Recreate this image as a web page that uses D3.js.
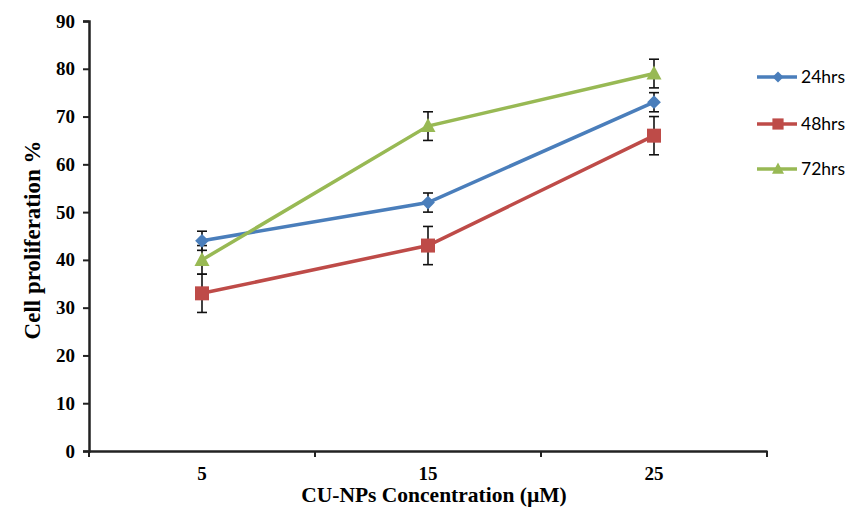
<!DOCTYPE html>
<html>
<head>
<meta charset="utf-8">
<script src="https://cdn.jsdelivr.net/npm/d3@7"></script>
<style>
  body { margin: 0; background: #fff; }
  svg { display: block; }
</style>
</head>
<body>
<div id="chart"></div>
<script>
// ---- data ----
const concentrations = ["5", "15", "25"];
const seriesNames = ["24hrs", "48hrs", "72hrs"];
const values24 = [44, 52, 73];
const values48 = [33, 43, 66];
const values72 = [40, 68, 79];
const errors24 = [2, 2, 2];
const errors48 = [4, 4, 4];
const errors72 = [3, 3, 3];
const yTicks = [0, 10, 20, 30, 40, 50, 60, 70, 80, 90];

const series = [
  { name: seriesNames[0], values: values24, errors: errors24, color: "#4a7ebb", shape: "diamond" },
  { name: seriesNames[1], values: values48, errors: errors48, color: "#be4b48", shape: "square" },
  { name: seriesNames[2], values: values72, errors: errors72, color: "#98b954", shape: "triangle" }
];

const W = 848, H = 515;
const margin = { left: 89, right: 81, top: 21, bottom: 64 };

const svg = d3.select("#chart").append("svg")
  .attr("width", W).attr("height", H);

const x = d3.scaleBand()
  .domain(concentrations)
  .range([margin.left, W - margin.right]);

const y = d3.scaleLinear()
  .domain([0, 90])
  .range([H - margin.bottom, margin.top]);

const axisFont = "'Liberation Serif', 'Times New Roman', serif";

// marker paths
function markerPath(shape) {
  if (shape === "diamond") return d3.symbol(d3.symbolDiamond2, 120)();
  if (shape === "square") return "M-7,-7H7V7H-7Z";
  return "M0,-8L7.5,6H-7.5Z";
}

// axes
const yAxis = svg.append("g")
  .attr("transform", `translate(${margin.left},0)`)
  .call(d3.axisLeft(y).tickValues(yTicks).tickSize(6).tickSizeOuter(6));

const xAxis = svg.append("g")
  .attr("transform", `translate(0,${y(0)})`)
  .call(d3.axisBottom(x).tickSize(0).tickSizeOuter(0));

// tick marks between categories (Excel style)
const boundaries = [x.range()[0]].concat(concentrations.map(c => x(c) + x.bandwidth()));
xAxis.selectAll(".between")
  .data(boundaries)
  .join("line")
  .attr("class", "between")
  .attr("x1", d => d).attr("x2", d => d)
  .attr("y1", 0).attr("y2", 6)
  .attr("stroke", "#222").attr("stroke-width", 2);

[yAxis, xAxis].forEach(g => {
  g.select(".domain").attr("stroke", "#222").attr("stroke-width", 2.5);
  g.selectAll(".tick line").attr("stroke", "#222").attr("stroke-width", 2);
  g.selectAll("text")
    .attr("font-family", axisFont)
    .attr("font-weight", "bold")
    .attr("font-size", 19)
    .attr("fill", "#000");
});
yAxis.selectAll(".tick text").attr("x", -14);
xAxis.selectAll(".tick text").attr("y", 16);

// axis titles
svg.append("text")
  .attr("transform", `translate(40,240) rotate(-90)`)
  .attr("text-anchor", "middle")
  .attr("font-family", axisFont)
  .attr("font-weight", "bold")
  .attr("font-size", 23)
  .text("Cell proliferation %");

svg.append("text")
  .attr("x", 434)
  .attr("y", 502)
  .attr("text-anchor", "middle")
  .attr("font-family", axisFont)
  .attr("font-weight", "bold")
  .attr("font-size", 21.5)
  .text("CU-NPs Concentration (\u00b5M)");

const cx = c => x(c) + x.bandwidth() / 2;

// error bars
const errG = svg.append("g");
series.forEach(s => {
  concentrations.forEach((c, i) => {
    const lo = y(s.values[i] - s.errors[i]), hi = y(s.values[i] + s.errors[i]);
    const px = cx(c);
    errG.append("line").attr("x1", px).attr("x2", px).attr("y1", lo).attr("y2", hi)
      .attr("stroke", "#111").attr("stroke-width", 1.6);
    [lo, hi].forEach(v => errG.append("line")
      .attr("x1", px - 5).attr("x2", px + 5).attr("y1", v).attr("y2", v)
      .attr("stroke", "#111").attr("stroke-width", 1.6));
  });
});

// lines and markers
const line = d3.line().x((d, i) => cx(concentrations[i])).y(d => y(d));
series.forEach(s => {
  const g = svg.append("g");
  g.append("path")
    .datum(s.values)
    .attr("d", line)
    .attr("fill", "none")
    .attr("stroke", s.color)
    .attr("stroke-width", 3.5);
  g.selectAll("path.mk")
    .data(s.values)
    .join("path")
    .attr("class", "mk")
    .attr("transform", (d, i) => `translate(${cx(concentrations[i])},${y(d)})`)
    .attr("d", markerPath(s.shape))
    .attr("fill", s.color);
});

// legend
const legendY = [77, 124, 169];
const legend = svg.append("g");
series.forEach((s, i) => {
  const g = legend.append("g").attr("transform", `translate(757,${legendY[i]})`);
  g.append("line").attr("x1", 0).attr("x2", 40).attr("y1", 0).attr("y2", 0)
    .attr("stroke", s.color).attr("stroke-width", 3.5);
  g.append("path").attr("transform", "translate(21,0) scale(0.8)")
    .attr("d", markerPath(s.shape)).attr("fill", s.color);
  g.append("text").attr("x", 44).attr("y", 0).attr("dy", "0.35em")
    .attr("font-family", "Lato, 'Open Sans', sans-serif")
    .attr("font-size", 17.5)
    .attr("fill", "#000")
    .text(s.name);
});
</script>
</body>
</html>
